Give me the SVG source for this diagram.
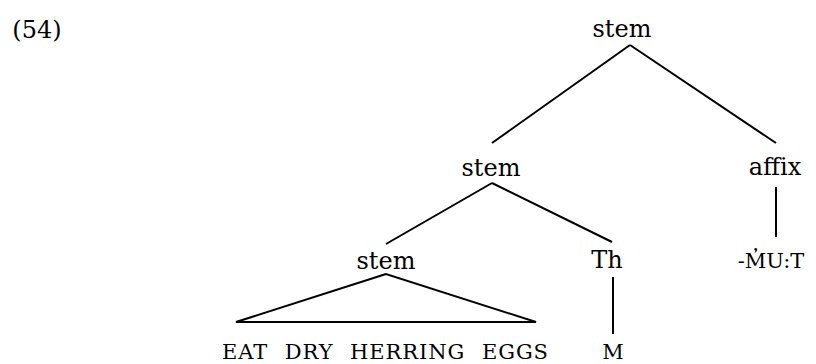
<svg xmlns="http://www.w3.org/2000/svg" width="816" height="364" viewBox="0 0 816 364">
<style>
.t{font-family:'DejaVu Serif',serif;fill:#000;text-anchor:middle}
.n{font-size:24px}
.sc{font-size:21px}
.e line,.e path{stroke:#000;stroke-width:2;fill:none}
</style>
<rect width="816" height="364" fill="#fff"/>
<g class="t">
<text x="37" y="38" class="n">(54)</text>
</g>
<g class="e" id="connectors">
<line x1="630" y1="45" x2="492" y2="143"/>
<line x1="630" y1="45" x2="776" y2="143"/>
<line x1="492" y1="183" x2="386" y2="244"/>
<line x1="492" y1="183" x2="612" y2="242"/>
<line x1="776" y1="187" x2="776" y2="237"/>
<line x1="613" y1="277" x2="613" y2="334"/>
<path d="M386 274 L236 322 L536 322 Z"/>
</g>
<g class="t">
<g id="n-stem-top"><text x="622" y="37" class="n">stem</text></g>
<g id="n-stem-mid"><text x="491" y="176" class="n">stem</text></g>
<g id="n-affix"><text x="775" y="175" class="n">affix</text></g>
<g id="n-stem-low"><text x="386" y="269" class="n">stem</text></g>
<g id="n-th"><text x="607" y="268" class="n" font-size="25">Th</text></g>
<g id="n-mut"><text x="771" y="268" class="sc">-M̓U:T</text></g>
<g id="n-gloss"><text x="385" y="359" class="sc" word-spacing="9" textLength="326">EAT DRY HERRING EGGS</text></g>
<g id="n-m"><text x="613" y="359" class="sc">M</text></g>
</g>
</svg>
